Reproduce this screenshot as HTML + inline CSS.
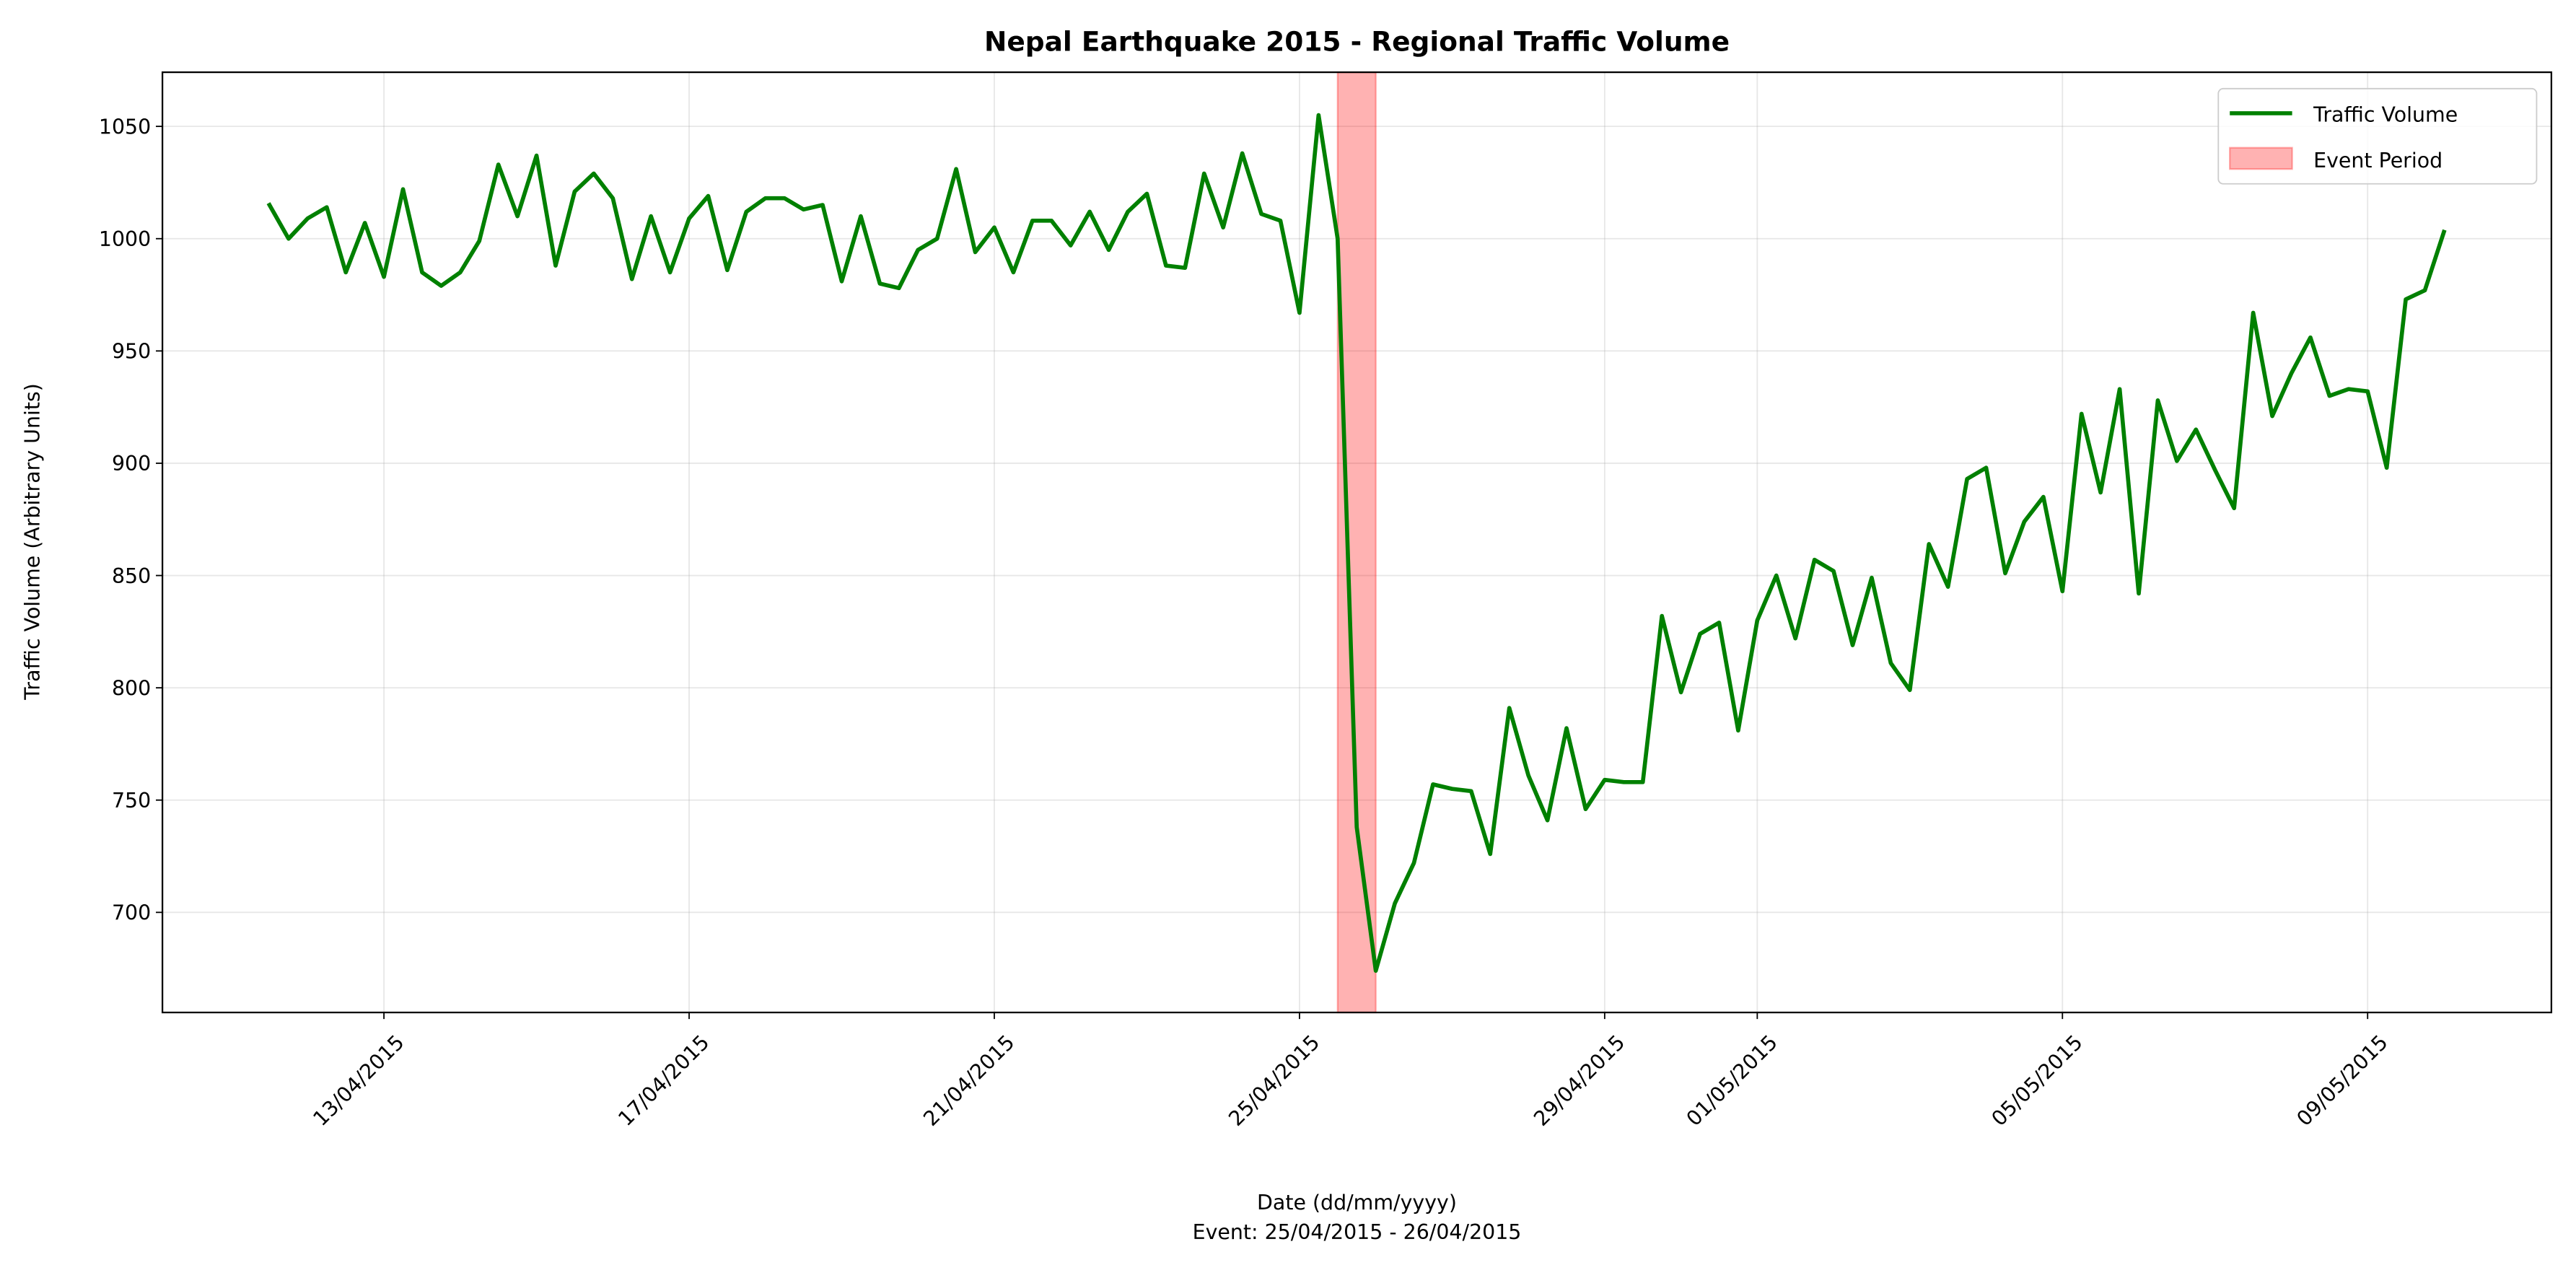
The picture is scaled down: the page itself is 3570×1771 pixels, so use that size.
<!DOCTYPE html>
<html><head><meta charset="utf-8"><style>
html,body{margin:0;padding:0;background:#fff}
svg{display:block}
text{font-family:"DejaVu Sans","Liberation Sans",sans-serif;fill:#000}
</style></head><body>
<svg id="chart" width="3570" height="1771" viewBox="0 0 1570 778.8" xmlns="http://www.w3.org/2000/svg">
<rect width="1570" height="778.8" fill="#fff"/>
<text x="827" y="31" font-size="16.5" font-weight="bold" text-anchor="middle">Nepal Earthquake 2015 - Regional Traffic Volume</text>
<g id="grid"></g>
<g id="event"></g>
<g id="series"></g>
<rect x="99" y="44" width="1456" height="573" fill="none" stroke="#000" stroke-width="1"/>
<g id="xticks"></g>
<g id="yticks"></g>
<text x="827" y="737" font-size="12.5" text-anchor="middle">Date (dd/mm/yyyy)</text>
<text x="827" y="755" font-size="12.5" text-anchor="middle">Event: 25/04/2015 - 26/04/2015</text>
<text transform="translate(24,330) rotate(-90)" font-size="12.5" text-anchor="middle">Traffic Volume (Arbitrary Units)</text>
<g>
<rect x="1352" y="54" width="194" height="58" rx="3" fill="#fff" fill-opacity="0.8" stroke="#ccc" stroke-width="0.8"/>
<line x1="1359" y1="69" x2="1397" y2="69" stroke="#008000" stroke-width="2.5"/>
<text x="1410" y="74" font-size="12.5">Traffic Volume</text>
<rect x="1359" y="90" width="38" height="13" fill="#ff0000" fill-opacity="0.3" stroke="#ff0000" stroke-opacity="0.3"/>
<text x="1410" y="102" font-size="12.5">Event Period</text>
</g>
</svg>
<script>
const startDay = -1.5; // days relative to 13/04/2015, 6-hourly samples
const stepDays = 0.25;
const trafficValues = [1015,1000,1009,1014,985,1007,983,1022,985,979,985,999,1033,1010,1037,988,1021,1029,1018,982,1010,985,1009,1019,986,1012,1018,1018,1013,1015,981,1010,980,978,995,1000,1031,994,1005,985,1008,1008,997,1012,995,1012,1020,988,987,1029,1005,1038,1011,1008,967,1055,1000,738,674,704,722,757,755,754,726,791,761,741,782,746,759,758,758,832,798,824,829,781,830,850,822,857,852,819,849,811,799,864,845,893,898,851,874,885,843,922,887,933,842,928,901,915,897,880,967,921,940,956,930,933,932,898,973,977,1003];
const xTickDays = [0,4,8,12,16,18,22,26];
const xTickLabels = ["13/04/2015","17/04/2015","21/04/2015","25/04/2015","29/04/2015","01/05/2015","05/05/2015","09/05/2015"];
const yTicks = [700,750,800,850,900,950,1000,1050];
const eventStartDay = 12.5;
const eventEndDay = 13;

const NS = "http://www.w3.org/2000/svg";
const L=99,R=1555,T=44,B=617;
const x = d => 234 + 46.5*d;
const y = v => 556 - (v-700)*(479/350);
function mk(tag, attrs, parent){const e=document.createElementNS(NS,tag);for(const k in attrs)e.setAttribute(k,attrs[k]);parent.appendChild(e);return e;}
const grid=document.getElementById('grid'), xt=document.getElementById('xticks'), yt=document.getElementById('yticks');
xTickDays.forEach((d,i)=>{
  const gx=x(d);
  const gl=mk('line',{x1:gx,x2:gx,y1:T,y2:B,stroke:'#b0b0b0','stroke-opacity':0.3,'stroke-width':0.8},grid);
  
  
  const tk=mk('line',{x1:gx,x2:gx,y1:B,y2:B+4,stroke:'#000','stroke-width':0.8},xt);
  
  
  const ax=gx+13, ay=B+19;
  const tx=mk('text',{x:ax,y:ay,'font-size':12.5,'text-anchor':'end',transform:`rotate(-45 ${ax} ${ay})`},xt);
  tx.textContent=xTickLabels[i];
  
  
});
yTicks.forEach(v=>{
  const gy=y(v);
  const gl=mk('line',{x1:L,x2:R,y1:gy,y2:gy,stroke:'#b0b0b0','stroke-opacity':0.3,'stroke-width':0.8},grid);
  
  
  const tk=mk('line',{x1:L-4,x2:L,y1:gy,y2:gy,stroke:'#000','stroke-width':0.8},yt);
  
  
  const tx=mk('text',{x:L-7,y:gy+4.5,'font-size':12.5,'text-anchor':'end'},yt);
  tx.textContent=v;
  
  
});
const band=mk('rect',{x:x(eventStartDay),y:T,width:x(eventEndDay)-x(eventStartDay),height:B-T,fill:'#ff0000','fill-opacity':0.3,stroke:'#ff0000','stroke-opacity':0.3},document.getElementById('event'));


const pts=trafficValues.map((v,i)=>x(startDay+i*stepDays).toFixed(2)+','+y(v).toFixed(2)).join(' ');
const line=mk('polyline',{points:pts,fill:'none',stroke:'#008000','stroke-width':2.5,'stroke-linejoin':'round','stroke-linecap':'square'},document.getElementById('series'));


</script>
</body></html>
